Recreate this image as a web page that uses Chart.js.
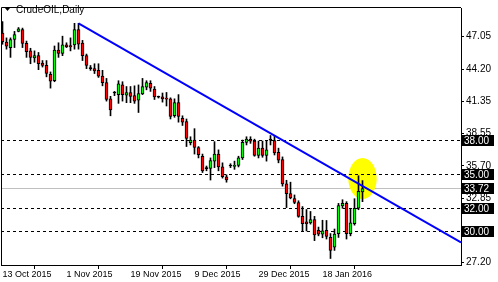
<!DOCTYPE html>
<html>
<head>
<meta charset="utf-8">
<title>CrudeOIL Daily</title>
<script src="https://cdn.jsdelivr.net/npm/chart.js@4.4.1/dist/chart.umd.min.js"></script>
<style>
  html, body { margin: 0; padding: 0; background: #fff; }
  #wrap { width: 498px; height: 282px; }
</style>
</head>
<body>
<div id="wrap"><canvas id="chart" width="498" height="282"></canvas></div>
<script>
// daily candles, 13 Oct 2015 .. 29 Jan 2016 (one entry per bar)
const opens = [
  47.37, 46.57, 46.09, 46.80, 47.51, 47.66, 46.46, 45.80, 45.18, 45.38,
  44.72, 44.52, 43.73, 43.18, 45.86, 45.57, 46.32, 46.26, 46.32, 47.66,
  46.49, 45.38, 44.24, 44.24, 44.09, 43.58, 43.01, 41.59, 42.10, 41.96,
  42.81, 41.90, 42.13, 41.87, 41.47, 42.02, 42.62, 42.96, 42.45, 41.73,
  41.76, 41.59, 41.59, 40.10, 41.25, 39.88, 39.59, 37.74, 37.97, 37.32,
  36.55, 35.46, 35.49, 36.12, 36.74, 35.61, 34.75, 35.69, 35.66, 35.74,
  36.40, 37.77, 38.03, 37.88, 36.63, 37.26, 36.63, 37.97, 37.92, 36.89,
  36.26, 34.12, 33.27, 32.84, 32.47, 31.27, 30.79, 30.70, 30.99, 30.05,
  29.71, 30.05, 29.42, 28.56, 29.76, 32.19, 32.41, 29.76, 30.62, 31.98,
  33.41
];
const highs = [
  48.37, 46.94, 46.94, 47.51, 47.85, 47.80, 46.66, 46.03, 45.80, 45.66,
  44.95, 44.95, 43.95, 46.23, 46.51, 47.09, 46.51, 46.94, 48.22, 48.22,
  46.72, 45.52, 44.52, 44.67, 44.67, 44.09, 43.38, 41.81, 42.24, 43.18,
  43.09, 42.67, 42.67, 42.73, 42.81, 43.38, 43.18, 43.18, 42.67, 41.83,
  42.10, 42.15, 41.68, 41.59, 41.96, 40.10, 39.82, 38.26, 38.97, 37.40,
  36.74, 35.69, 36.40, 37.83, 37.11, 35.97, 34.92, 35.89, 36.12, 36.55,
  37.97, 38.26, 38.26, 38.05, 37.88, 37.88, 37.88, 38.37, 38.39, 37.26,
  36.49, 34.44, 34.27, 33.15, 32.64, 32.13, 31.87, 31.70, 31.27, 30.33,
  30.93, 30.91, 29.76, 30.16, 32.41, 32.73, 32.56, 31.98, 32.82, 34.84,
  34.41
];
const lows = [
  46.38, 45.95, 45.23, 46.09, 47.47, 46.09, 45.23, 44.67, 44.80, 44.15,
  44.38, 43.52, 42.53, 43.09, 45.23, 45.38, 46.09, 45.80, 45.95, 45.95,
  44.95, 44.24, 44.09, 43.81, 43.47, 42.73, 41.39, 40.10, 41.87, 41.19,
  41.39, 41.25, 41.25, 41.19, 40.39, 41.96, 42.38, 42.24, 41.53, 41.66,
  41.30, 40.96, 39.82, 39.97, 39.54, 39.25, 37.40, 37.54, 36.74, 36.40,
  35.12, 35.27, 34.46, 35.55, 35.27, 34.63, 34.27, 35.55, 35.40, 35.61,
  36.26, 37.54, 37.68, 36.55, 36.40, 36.46, 36.12, 37.54, 36.66, 35.97,
  33.92, 32.04, 32.81, 32.38, 31.19, 29.99, 29.99, 30.59, 29.14, 29.56,
  29.39, 29.28, 27.57, 28.28, 29.42, 31.98, 29.28, 29.56, 30.50, 31.85,
  32.56
];
const closes = [
  46.60, 46.21, 46.80, 47.23, 47.74, 46.46, 45.74, 45.23, 45.38, 44.67,
  44.52, 43.81, 43.15, 45.86, 45.57, 46.32, 46.15, 46.15, 47.66, 46.38,
  45.38, 44.52, 44.24, 44.03, 43.58, 43.01, 41.53, 40.62, 42.10, 42.90,
  41.96, 42.13, 41.81, 41.39, 42.04, 42.67, 43.01, 42.53, 41.76, 41.73,
  41.59, 41.56, 40.05, 41.25, 40.05, 39.54, 38.11, 37.97, 37.32, 36.68,
  35.27, 35.46, 36.17, 36.74, 35.61, 34.75, 34.46, 35.69, 35.69, 36.40,
  37.77, 38.05, 37.88, 36.63, 37.26, 36.63, 37.11, 37.97, 36.83, 36.21,
  34.12, 33.27, 32.90, 32.50, 31.27, 30.62, 30.62, 30.99, 29.65, 29.71,
  29.99, 29.52, 28.28, 29.71, 32.21, 32.41, 29.76, 30.70, 31.98, 33.47,
  33.72
];

const dateTicks = [0, 16, 32, 48, 64, 80];
const dateLabels = ["13 Oct 2015", "1 Nov 2015", "19 Nov 2015", "9 Dec 2015", "29 Dec 2015", "18 Jan 2016"];
const priceTicks = [27.20, 30.00, 32.85, 35.70, 38.55, 41.35, 44.20, 47.05];
const levels = [38.00, 35.00, 32.00, 30.00];
const lastPrice = 33.72;
const trendStart = { x: 19, y: 48.22 };
const trendEnd = { x: 114.625, y: 28.98 };
const marker = { bar: 90, price: 34.6, barRadius: 3.55, priceRadius: 1.8 };
const titleText = "CrudeOIL,Daily";

const bodyColors = opens.map((o, i) => closes[i] > o ? "#00ff00" : (closes[i] < o ? "#ff0000" : "#000000"));

Chart.defaults.font.family = "'Liberation Sans', Arial, sans-serif";
Chart.defaults.color = "#000";

const decorations = {
  id: "decorations",
  beforeDatasetsDraw(chart) {
    const { ctx, chartArea, scales: { x, y } } = chart;
    ctx.save();
    // last price line
    const py = Math.round(y.getPixelForValue(lastPrice)) + 0.5;
    ctx.strokeStyle = "#c0c0c0";
    ctx.lineWidth = 1;
    ctx.beginPath();
    ctx.moveTo(chartArea.left, py);
    ctx.lineTo(chartArea.right, py);
    ctx.stroke();

    // yellow ellipse
    const cx = x.getPixelForValue(marker.bar);
    const cy = y.getPixelForValue(marker.price);
    const rx = Math.abs(x.getPixelForValue(marker.bar + marker.barRadius) - cx);
    const ry = Math.abs(y.getPixelForValue(marker.price + marker.priceRadius) - cy);
    ctx.fillStyle = "#ffff00";
    ctx.beginPath();
    ctx.ellipse(cx, cy, rx, ry, 0, 0, Math.PI * 2);
    ctx.fill();

    // support / resistance levels
    ctx.strokeStyle = "#000";
    ctx.setLineDash([3, 3]);
    levels.forEach(v => {
      const ly = Math.round(y.getPixelForValue(v)) + 0.5;
      ctx.beginPath();
      ctx.moveTo(chartArea.left, ly);
      ctx.lineTo(chartArea.right, ly);
      ctx.stroke();
    });
    ctx.restore();
  },
  afterDraw(chart) {
    const { ctx, chartArea, scales: { y } } = chart;
    ctx.save();
    // frame left + top
    ctx.strokeStyle = "#000";
    ctx.lineWidth = 1;
    ctx.beginPath();
    ctx.moveTo(chartArea.left + 0.5, chartArea.bottom);
    ctx.lineTo(chartArea.left + 0.5, chartArea.top - 0.5);
    ctx.lineTo(chartArea.right, chartArea.top - 0.5);
    ctx.stroke();

    // price boxes on the right axis
    ctx.font = "10px 'Liberation Sans', Arial, sans-serif";
    ctx.textBaseline = "middle";
    ctx.textAlign = "left";
    levels.concat([lastPrice]).forEach(v => {
      const by = Math.round(y.getPixelForValue(v));
      ctx.fillStyle = "#000";
      ctx.fillRect(chartArea.right + 1, by - 5, 32, 11);
      ctx.fillStyle = "#fff";
      ctx.fillText(v.toFixed(2), chartArea.right + 3, by + 1);
    });

    // title
    ctx.fillStyle = "#000";
    ctx.beginPath();
    ctx.moveTo(5, 8);
    ctx.lineTo(10, 8);
    ctx.lineTo(7.5, 11);
    ctx.closePath();
    ctx.fill();
    ctx.fillText(titleText, 16, 10);
    ctx.restore();
  }
};

new Chart(document.getElementById("chart"), {
  type: "bar",
  data: {
    datasets: [
      {
        type: "line",
        data: [trendStart, trendEnd],
        borderColor: "#0000ff",
        borderWidth: 2,
        pointRadius: 0,
        order: 0,
      },
      {
        data: opens.map((o, i) => ({ x: i, y: [o, closes[i]] })),
        backgroundColor: bodyColors,
        borderColor: "#000",
        borderWidth: 1,
        borderSkipped: false,
        barThickness: 3,
        minBarLength: 1,
        grouped: false,
        order: 1,
      },
      {
        data: lows.map((l, i) => ({ x: i, y: [l, highs[i]] })),
        backgroundColor: "#000",
        barThickness: 1,
        grouped: false,
        order: 2,
      },
    ],
  },
  options: {
    responsive: false,
    animation: false,
    devicePixelRatio: 1,
    layout: { padding: { left: 1, top: 1, right: 0, bottom: 0 } },
    plugins: {
      legend: { display: false },
      tooltip: { enabled: false },
    },
    scales: {
      x: {
        type: "linear",
        min: -0.375,
        max: 114.625,
        offset: false,
        afterBuildTicks: (s) => { s.ticks = dateTicks.map(v => ({ value: v })); },
        afterFit: (s) => { s.height = 17; },
        ticks: {
          autoSkip: false,
          maxRotation: 0,
          align: "start",
          padding: 0,
          font: { size: 9 },
          color: "#000",
          callback: (v) => dateLabels[dateTicks.indexOf(v)],
        },
        grid: { drawOnChartArea: false, tickLength: 4, color: "#000" },
        border: { display: true, color: "#000" },
      },
      y: {
        position: "right",
        min: 27.0,
        max: 49.564,
        afterBuildTicks: (s) => { s.ticks = priceTicks.map(v => ({ value: v })); },
        afterFit: (s) => { s.width = 37; },
        ticks: {
          autoSkip: false,
          padding: 2,
          font: { size: 10 },
          color: "#000",
          callback: (v) => v.toFixed(2),
        },
        grid: { drawOnChartArea: false, tickLength: 3, color: "#000" },
        border: { display: true, color: "#000" },
      },
    },
  },
  plugins: [decorations],
});
</script>
</body>
</html>
